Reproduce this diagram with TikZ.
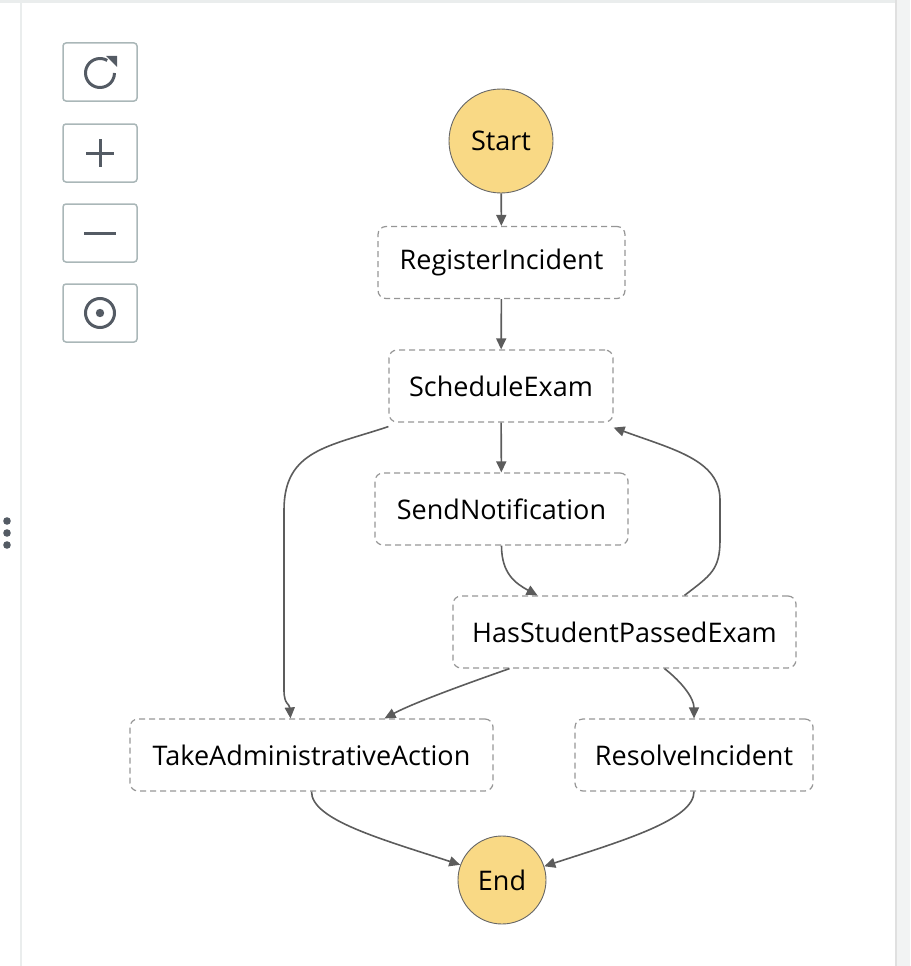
\documentclass[tikz,border=0pt]{standalone}
\usepackage{fontspec}
\setmainfont{Open Sans}
\usepackage{tikz}
\usetikzlibrary{arrows.meta, positioning, calc}
\definecolor{TermYellow}{RGB}{249,217,133}
\definecolor{EdgeGrey}{RGB}{92,92,92}
\definecolor{BoxGrey}{RGB}{150,150,150}
\definecolor{IconGrey}{RGB}{84,91,100}
\definecolor{ButtonGrey}{RGB}{170,183,184}
\definecolor{PanelGrey}{RGB}{234,237,237}
\definecolor{StripGrey}{RGB}{242,243,243}

\begin{document}
\begin{tikzpicture}[x=1pt,y=-1pt,
        term/.style={circle,draw=black!60,line width=0.9pt,fill=TermYellow,
                     font=\fontsize{27}{32}\selectfont,inner sep=0pt},
        task/.style={draw=BoxGrey,dash pattern=on 6pt off 4pt,line width=1.2pt,
                     rounded corners=8pt,minimum height=72pt,
                     font=\fontsize{27}{32}\selectfont},
        flow/.style={draw=EdgeGrey,line width=1.6pt,
                     -{Triangle[length=11pt,width=10pt]}},
        btn/.style={draw=ButtonGrey,line width=1.5pt,rounded corners=3pt,
                    minimum width=74pt,minimum height=58pt},
        icon/.style={IconGrey,line width=3pt}
      ]
        \useasboundingbox (0,0) rectangle (910,966);
        \fill[StripGrey] (897,0) rectangle (910,966);
        \draw[PanelGrey,line width=3pt] (0,2) -- (896,2);
        \draw[PanelGrey,line width=2pt] (21,3) -- (21,966);
        \draw[black!12,line width=2pt] (896,0) -- (896,966);

        \foreach \y/\n in {72/reload,153/zoomin,233/zoomout,313/recenter}
          \node[btn] (\n) at (100,\y) {};
        \draw[icon] (100,73) ++(-60:14.5) arc[start angle=-60,end angle=-360,radius=14.5];
        \fill[IconGrey] (106,56) -- (117,56) -- (117,67) -- cycle;
        \draw[icon] (86,153) -- (114,153) (100,139) -- (100,167);
        \draw[icon] (84,233) -- (116,233);
        \draw[icon] (100,313) circle (14.5);
        \fill[IconGrey] (100,313) circle (4.2);
        \foreach \y in {521,533,545}
          \fill[IconGrey] (7,\y) circle (3.8);

        \node[term,minimum size=104pt] (start) at (501,141) {Start};
        \node[task,minimum width=247pt] (register) at (501.5,262.5) {RegisterIncident};
        \node[task,minimum width=224pt] (schedule) at (501,386) {ScheduleExam};
        \node[task,minimum width=253pt] (notify) at (501.5,509) {SendNotification};
        \node[task,minimum width=343pt] (passed) at (624.5,632) {HasStudentPassedExam};
        \node[task,minimum width=363pt] (action) at (311.5,755) {TakeAdministrativeAction};
        \node[task,minimum width=238pt] (resolve) at (694,755) {ResolveIncident};
        \node[term,minimum size=88pt] (finish) at (502,880) {End};

        \draw[flow] (start) -- (register);
        \draw[flow] (register) -- (schedule);
        \draw[flow] (schedule) -- (notify);
        \draw[flow] (notify.south) .. controls +(0,28) and +(-22,-12) .. ([xshift=-87pt]passed.north);
        \draw[flow] ([xshift=60pt]passed.north) .. controls +(26,-20) and +(0,30) .. (720,540)
          -- (720,500) .. controls +(0,-40) and +(60,22) .. ([yshift=-5pt]schedule.south east);
        \draw[flow] ([yshift=-4pt]schedule.south west) .. controls +(-60,20) and +(0,-60) .. (284,510)
          -- (284,690) .. controls +(0,15) and +(-1,-15) .. ([xshift=-21pt]action.north);
        \draw[flow] ([xshift=-115pt]passed.south) .. controls +(-40,14) and +(30,-16) .. ([xshift=73pt]action.north);
        \draw[flow] ([xshift=40pt]passed.south) .. controls +(18,14) and +(0,-20) .. (resolve.north);
        \draw[flow] (action.south) .. controls +(0,28) and +(-80,-26) .. (finish.160);
        \draw[flow] (resolve.south) .. controls +(0,28) and +(80,-26) .. (finish.18);
      \end{tikzpicture}
\end{document}
